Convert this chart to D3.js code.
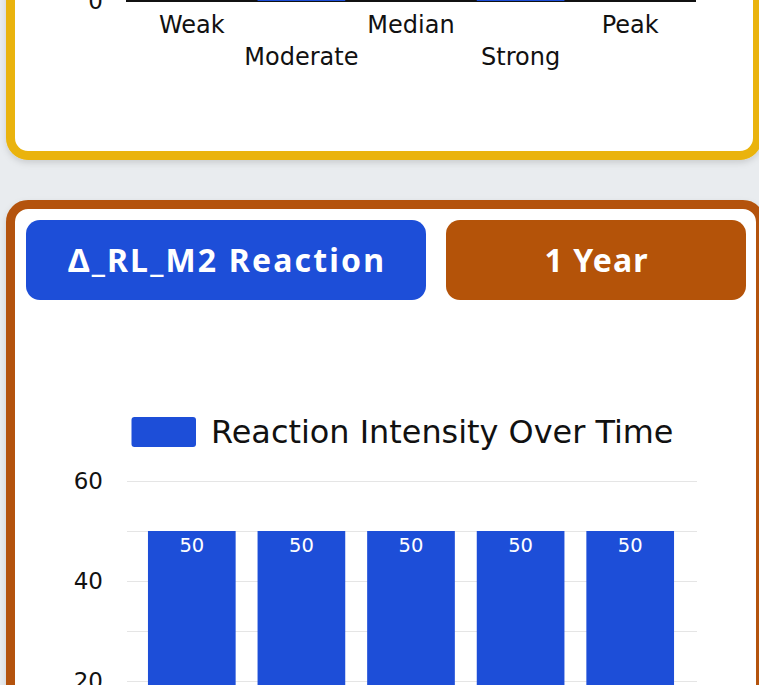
<!DOCTYPE html>
<html>
<head>
<meta charset="utf-8">
<script src="https://cdn.jsdelivr.net/npm/d3@7"></script>
<style>
  html, body { margin: 0; padding: 0; background: #e9ecef; overflow: hidden; }
  svg { display: block; }
</style>
</head>
<body>
<svg id="chart" width="759" height="685"></svg>
<script>
// ---- data ----
const categories = ["Weak", "Moderate", "Median", "Strong", "Peak"];
const topValues = [0, 50, 0, 50, 0];          // upper chart (only its base is visible)
const reactionValues = [50, 50, 50, 50, 50];  // "Reaction Intensity Over Time"
const yTicksTop = [0];
const yTicksBottom = [0, 10, 20, 30, 40, 50, 60];
const yTickLabelsBottom = [0, 20, 40, 60];
const seriesName = "Reaction Intensity Over Time";
const metricLabel = "\u0394_RL_M2 Reaction";
const periodLabel = "1 Year";

// ---- styles ----
const BLUE = "#1d4ed8", AMBER = "#b45309", YELLOW = "#eab308";
const chartFont = "'DejaVu Sans', sans-serif";
const headFont = "'Noto Sans', 'Open Sans', sans-serif";

const svg = d3.select("#chart");
const defs = svg.append("defs");
const f = defs.append("filter").attr("id", "shadow")
  .attr("x", "-5%").attr("y", "-5%").attr("width", "110%").attr("height", "110%");
f.append("feDropShadow").attr("dx", 0).attr("dy", 3).attr("stdDeviation", 3)
  .attr("flood-color", "#000").attr("flood-opacity", 0.13);

// ---- cards ----
svg.append("rect").attr("x", 10.5).attr("y", -600).attr("width", 747).attr("height", 755.5)
  .attr("rx", 17.5).attr("fill", "#fff").attr("stroke", YELLOW).attr("stroke-width", 9)
  .attr("filter", "url(#shadow)");
svg.append("rect").attr("x", 10.5).attr("y", 204.5).attr("width", 750).attr("height", 900)
  .attr("rx", 17.5).attr("fill", "#fff").attr("stroke", AMBER).attr("stroke-width", 9)
  .attr("filter", "url(#shadow)");

// ---- shared x scale ----
const x = d3.scaleBand().domain(categories).range([137, 685]).paddingInner(0.2).paddingOuter(0.1);
const plotLeft = 127, plotRight = 697;

// ================= upper chart (bottom edge) =================
const topBase = 1;
const yTop = d3.scaleLinear().domain([0, 60]).range([topBase, topBase - 300]);
const gTop = svg.append("g");
gTop.append("line").attr("x1", plotLeft - 1).attr("x2", plotRight - 1)
  .attr("y1", topBase).attr("y2", topBase).attr("stroke", "#111").attr("stroke-width", 2);
gTop.selectAll("rect.bar").data(topValues).join("rect").attr("class", "bar")
  .attr("x", (d, i) => x(categories[i])).attr("width", x.bandwidth())
  .attr("y", d => yTop(d)).attr("height", d => yTop(0) - yTop(d)).attr("fill", BLUE);
gTop.selectAll("text.yt").data(yTicksTop).join("text").attr("class", "yt")
  .attr("x", 103).attr("y", d => yTop(d)).attr("dy", "0.36em").attr("text-anchor", "end")
  .attr("font-family", chartFont).attr("font-size", 23).attr("fill", "#111").text(d => d);
gTop.selectAll("text.xl").data(categories).join("text").attr("class", "xl")
  .attr("x", d => x(d) + x.bandwidth() / 2)
  .attr("y", (d, i) => topBase + 32 + (i % 2) * 32)
  .attr("text-anchor", "middle").attr("font-family", chartFont).attr("font-size", 24)
  .attr("fill", "#111").text(d => d);

// ================= header buttons =================
const head = svg.append("g");
head.append("rect").attr("x", 26).attr("y", 220).attr("width", 400).attr("height", 80)
  .attr("rx", 14).attr("fill", BLUE);
head.append("rect").attr("x", 446).attr("y", 220).attr("width", 300).attr("height", 80)
  .attr("rx", 14).attr("fill", AMBER);
head.append("text").attr("x", 226).attr("y", 272).attr("text-anchor", "middle")
  .attr("font-family", headFont).attr("font-weight", 700).attr("font-size", 32)
  .attr("textLength", 316).attr("lengthAdjust", "spacing")
  .attr("fill", "#fff").text(metricLabel);
head.append("text").attr("x", 596).attr("y", 272).attr("text-anchor", "middle")
  .attr("font-family", headFont).attr("font-weight", 700).attr("font-size", 32)
  .attr("textLength", 103).attr("lengthAdjust", "spacing")
  .attr("fill", "#fff").text(periodLabel);

// ================= lower chart =================
const y = d3.scaleLinear().domain([0, 60]).range([781, 481]);
const g = svg.append("g");
// legend
g.append("rect").attr("x", 131.5).attr("y", 417).attr("width", 64.5).attr("height", 30)
  .attr("rx", 3).attr("fill", BLUE);
g.append("text").attr("x", 211).attr("y", 443).attr("font-family", chartFont)
  .attr("font-size", 31.9).attr("fill", "#111").text(seriesName);
// grid
g.selectAll("line.grid").data(yTicksBottom).join("line").attr("class", "grid")
  .attr("x1", plotLeft).attr("x2", plotRight)
  .attr("y1", d => y(d) + 0.5).attr("y2", d => y(d) + 0.5)
  .attr("stroke", "#e5e5e5").attr("stroke-width", 1);
// bars
g.selectAll("rect.bar").data(reactionValues).join("rect").attr("class", "bar")
  .attr("x", (d, i) => x(categories[i])).attr("width", x.bandwidth())
  .attr("y", d => y(d)).attr("height", d => y(0) - y(d)).attr("fill", BLUE);
// value labels
g.selectAll("text.val").data(reactionValues).join("text").attr("class", "val")
  .attr("x", (d, i) => x(categories[i]) + x.bandwidth() / 2)
  .attr("y", d => y(d) + 21).attr("text-anchor", "middle")
  .attr("font-family", chartFont).attr("font-size", 19.5).attr("fill", "#fff").text(d => d);
// y tick labels
g.selectAll("text.yt").data(yTickLabelsBottom).join("text").attr("class", "yt")
  .attr("x", 103).attr("y", d => y(d)).attr("dy", "0.36em").attr("text-anchor", "end")
  .attr("font-family", chartFont).attr("font-size", 23).attr("fill", "#111").text(d => d);
</script>
</body>
</html>
